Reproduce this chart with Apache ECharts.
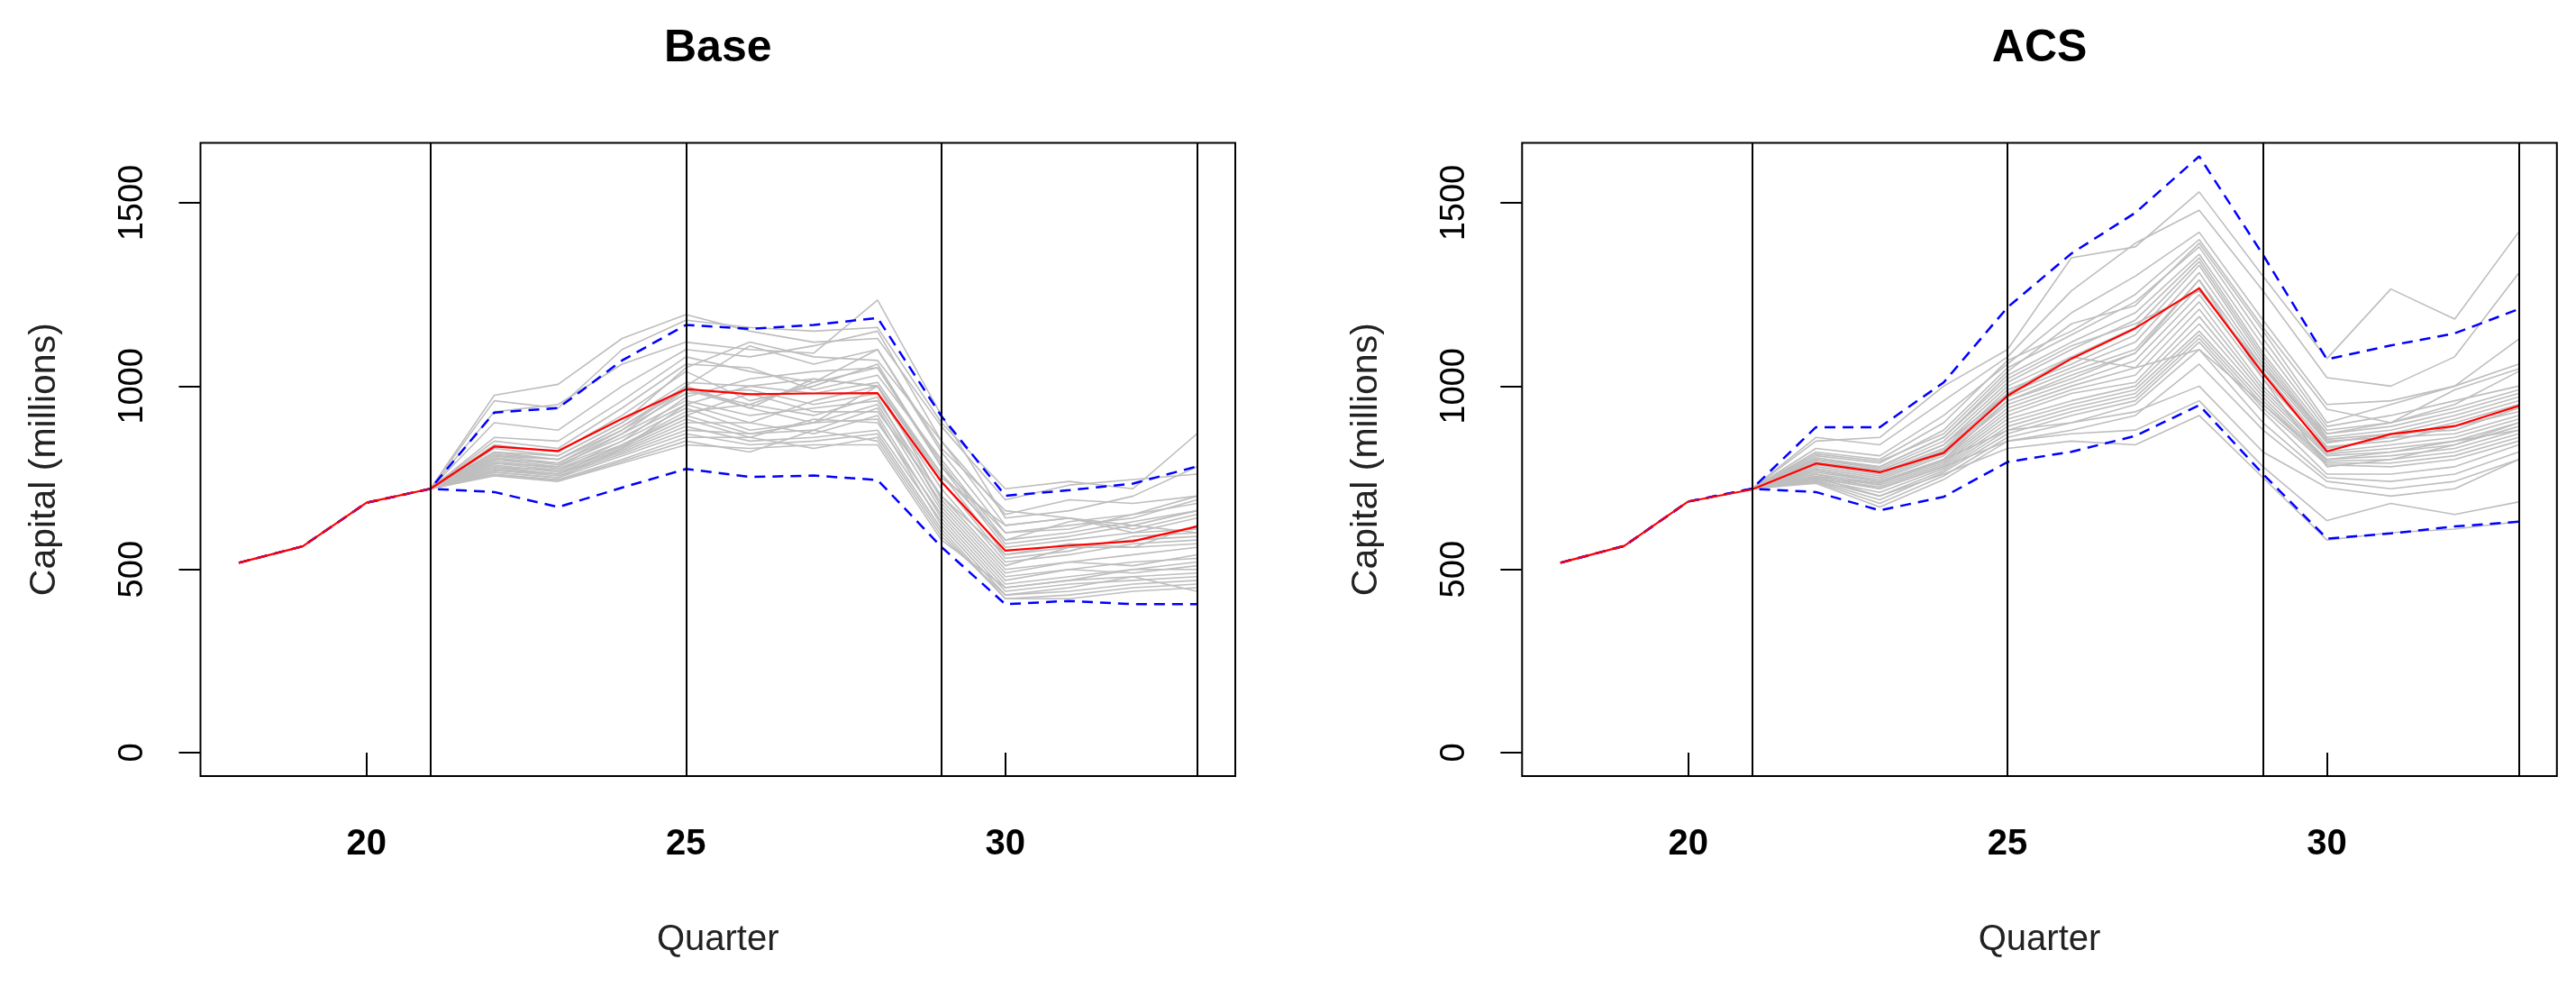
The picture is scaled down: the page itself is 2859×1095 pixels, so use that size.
<!DOCTYPE html>
<html>
<head>
<meta charset="utf-8">
<title>Capital paths: Base vs ACS</title>
<script src="https://cdn.jsdelivr.net/npm/echarts@6/dist/echarts.min.js"></script>
<style>
  html, body { margin: 0; padding: 0; background: #fff; }
  #chart { width: 2859px; height: 1095px; }
</style>
</head>
<body>
<div id="chart"></div>
<script>
// quarters
const histQuarters = [18, 19, 20, 21, 22, 23, 24, 25, 26, 27, 28, 29, 30, 31, 32, 33];
const simQuarters = [21, 22, 23, 24, 25, 26, 27, 28, 29, 30, 31, 32, 33];
const xTicks = [20, 25, 30];
const yTicks = [0, 500, 1000, 1500];
const breakQuarters = [21, 25, 29, 33];

// Base scenario (millions)
const baseMean = [518, 563, 682, 720, 835, 823, 911, 992, 978, 980, 981, 739, 551, 565, 577, 617];
const baseUpper = [518, 563, 682, 720, 928, 940, 1070, 1167, 1156, 1167, 1186, 918, 701, 716, 734, 781];
const baseLower = [518, 563, 682, 720, 711, 670, 723, 774, 752, 756, 744, 561, 405, 414, 405, 405];
const basePaths = [
  [720, 975, 1005, 1130, 1195, 1150, 1120, 1130, 890, 690, 730, 745, 760],
  [720, 960, 940, 1100, 1180, 1160, 1150, 1160, 900, 720, 740, 720, 870],
  [720, 930, 950, 1060, 1120, 1100, 1090, 1235, 920, 640, 660, 700, 780],
  [720, 900, 880, 1000, 1100, 1080, 1110, 1150, 850, 620, 640, 610, 650],
  [720, 860, 850, 960, 1080, 1040, 1010, 1100, 820, 600, 620, 640, 690],
  [720, 850, 830, 940, 1060, 1050, 990, 1030, 800, 580, 600, 630, 660],
  [720, 840, 820, 920, 1040, 960, 1000, 1060, 780, 560, 580, 600, 640],
  [720, 830, 810, 900, 1010, 1000, 980, 1010, 760, 540, 570, 560, 620],
  [720, 820, 800, 890, 990, 940, 1020, 1000, 740, 530, 550, 590, 600],
  [720, 815, 800, 880, 980, 990, 950, 980, 720, 520, 540, 570, 580],
  [720, 810, 790, 870, 960, 920, 940, 960, 700, 510, 560, 560, 570],
  [720, 805, 785, 860, 950, 900, 960, 1000, 690, 500, 520, 540, 560],
  [720, 800, 780, 850, 940, 880, 900, 950, 680, 490, 520, 510, 540],
  [720, 795, 775, 840, 930, 950, 920, 970, 670, 480, 500, 520, 530],
  [720, 790, 770, 835, 920, 870, 880, 940, 660, 470, 500, 490, 510],
  [720, 785, 765, 830, 910, 860, 910, 900, 650, 460, 480, 500, 500],
  [720, 780, 760, 825, 900, 900, 870, 920, 640, 450, 470, 480, 490],
  [720, 775, 760, 820, 890, 850, 860, 880, 630, 440, 460, 470, 480],
  [720, 770, 755, 815, 880, 870, 900, 910, 620, 430, 440, 460, 470],
  [720, 765, 750, 810, 870, 840, 850, 870, 610, 420, 430, 450, 460],
  [720, 760, 745, 800, 860, 860, 830, 860, 600, 420, 420, 440, 450],
  [720, 758, 742, 795, 850, 820, 880, 850, 590, 430, 450, 480, 440],
  [720, 755, 740, 790, 840, 830, 840, 840, 580, 450, 470, 500, 520],
  [720, 800, 790, 880, 1000, 1110, 1060, 1100, 830, 660, 640, 600, 610],
  [720, 820, 810, 900, 1050, 1120, 1080, 1070, 850, 650, 690, 680, 700],
  [720, 780, 770, 850, 970, 1020, 1040, 1050, 780, 600, 610, 650, 680],
  [720, 790, 780, 870, 990, 950, 1010, 1050, 790, 570, 590, 620, 600],
  [720, 770, 760, 840, 920, 980, 930, 930, 700, 540, 560, 580, 590],
  [720, 810, 800, 890, 1000, 940, 900, 1000, 760, 580, 630, 650, 700],
  [720, 765, 750, 830, 950, 1000, 1020, 1000, 750, 620, 640, 620, 660]
];

// ACS scenario (millions)
const acsMean = [518, 564, 685, 718, 789, 765, 818, 974, 1075, 1158, 1267, 1034, 822, 869, 891, 946];
const acsUpper = [518, 564, 685, 720, 888, 888, 1010, 1215, 1362, 1473, 1627, 1358, 1073, 1111, 1144, 1210];
const acsLower = [518, 564, 685, 720, 711, 661, 698, 793, 821, 864, 948, 760, 584, 598, 617, 630];
const acsPaths = [
  [720, 850, 860, 1000, 1100, 1350, 1380, 1530, 1300, 1075, 1265, 1183, 1420],
  [720, 860, 840, 960, 1080, 1260, 1390, 1480, 1260, 1023, 1000, 1080, 1308],
  [720, 830, 810, 920, 1060, 1200, 1300, 1420, 1180, 950, 960, 1000, 1128],
  [720, 820, 800, 900, 1070, 1150, 1250, 1400, 1160, 937, 900, 990, 1047],
  [720, 810, 790, 880, 1050, 1140, 1230, 1380, 1130, 890, 920, 960, 1000],
  [720, 805, 780, 860, 1030, 1120, 1200, 1360, 1110, 880, 900, 940, 990],
  [720, 800, 775, 850, 1010, 1100, 1180, 1350, 1090, 870, 890, 930, 980],
  [720, 795, 770, 840, 1000, 1080, 1160, 1340, 1080, 860, 880, 920, 970],
  [720, 790, 765, 830, 990, 1060, 1140, 1330, 1070, 855, 870, 910, 960],
  [720, 785, 760, 825, 980, 1050, 1120, 1310, 1060, 850, 860, 900, 950],
  [720, 780, 755, 820, 970, 1040, 1100, 1290, 1050, 845, 870, 880, 940],
  [720, 775, 750, 815, 960, 1020, 1090, 1270, 1040, 835, 850, 890, 930],
  [720, 770, 745, 810, 950, 1010, 1070, 1250, 1020, 830, 860, 870, 920],
  [720, 765, 740, 800, 940, 1000, 1050, 1230, 1000, 820, 840, 860, 910],
  [720, 760, 735, 795, 930, 990, 1030, 1210, 990, 815, 830, 850, 900],
  [720, 755, 730, 790, 920, 980, 1010, 1190, 980, 810, 820, 840, 890],
  [720, 750, 725, 785, 910, 960, 1000, 1170, 970, 800, 810, 830, 880],
  [720, 748, 720, 780, 900, 950, 990, 1150, 960, 795, 800, 820, 870],
  [720, 745, 710, 775, 890, 940, 980, 1140, 950, 790, 790, 810, 860],
  [720, 742, 700, 770, 880, 930, 970, 1130, 940, 785, 780, 800, 850],
  [720, 740, 690, 765, 870, 920, 960, 1120, 930, 760, 760, 780, 840],
  [720, 738, 680, 755, 860, 900, 950, 1100, 900, 750, 740, 760, 820],
  [720, 735, 670, 745, 850, 880, 920, 1060, 880, 740, 720, 740, 800],
  [720, 750, 700, 760, 830, 850, 840, 920, 750, 580, 600, 610, 630],
  [720, 760, 720, 780, 850, 870, 880, 960, 780, 633, 680, 650, 684],
  [720, 770, 740, 800, 880, 900, 930, 1000, 820, 723, 700, 720, 800],
  [720, 790, 770, 840, 980, 1080, 1050, 1100, 950, 800, 820, 850, 880],
  [720, 800, 780, 860, 1020, 1110, 1170, 1260, 1050, 870, 900, 950, 1040],
  [720, 815, 795, 870, 1040, 1170, 1220, 1390, 1150, 900, 950, 1000, 1060],
  [720, 752, 735, 800, 960, 1030, 1090, 1290, 1020, 780, 800, 840, 900]
];

const FONT = '"Liberation Sans", Arial, sans-serif';
const gridTop = 158.4;
const gridHeight = 702.6;
const gridWidth = 1148.5;

const panels = [
  { title: "Base", left: 222.5, mean: baseMean, upper: baseUpper, lower: baseLower, paths: basePaths },
  { title: "ACS", left: 1689.3, mean: acsMean, upper: acsUpper, lower: acsLower, paths: acsPaths }
];

const pairs = (xs, ys) => ys.map((y, i) => [xs[i], y]);

const option = {
  animation: false,
  backgroundColor: "#fff",
  title: [],
  grid: [],
  xAxis: [],
  yAxis: [],
  series: []
};

panels.forEach((p, k) => {
  option.title.push({
    text: p.title,
    left: p.left + gridWidth / 2,
    top: 29,
    padding: 0,
    textAlign: "center",
    textStyle: { fontFamily: FONT, fontSize: 50, fontWeight: "bold", color: "#000" }
  });

  option.grid.push({
    left: p.left,
    top: gridTop,
    width: gridWidth,
    height: gridHeight,
    show: true,
    borderColor: "#000",
    borderWidth: 2
  });

  option.xAxis.push({
    type: "value",
    gridIndex: k,
    min: 17.4,
    max: 33.6,
    name: "Quarter",
    nameLocation: "middle",
    nameGap: 162,
    nameTextStyle: { fontFamily: FONT, fontSize: 40, color: "#222" },
    axisLine: { show: false },
    splitLine: { show: false },
    axisTick: {
      show: true,
      customValues: xTicks,
      length: 25,
      lineStyle: { color: "#000", width: 2 }
    },
    axisLabel: {
      customValues: xTicks,
      margin: 56,
      fontFamily: FONT,
      fontSize: 40,
      fontWeight: "bold",
      color: "#000"
    }
  });

  option.yAxis.push({
    type: "value",
    gridIndex: k,
    min: -64,
    max: 1664,
    name: "Capital (millions)",
    nameLocation: "middle",
    nameGap: 152,
    nameTextStyle: { fontFamily: FONT, fontSize: 41, color: "#222" },
    axisLine: { show: false },
    splitLine: { show: false },
    axisTick: {
      show: true,
      customValues: yTicks,
      length: 24,
      lineStyle: { color: "#000", width: 2 }
    },
    axisLabel: {
      customValues: yTicks,
      formatter: v => String(v),
      rotate: 90,
      margin: 56,
      fontFamily: FONT,
      fontSize: 38,
      color: "#000"
    }
  });

  p.paths.forEach(path => {
    option.series.push({
      type: "line",
      xAxisIndex: k,
      yAxisIndex: k,
      data: pairs(simQuarters, path),
      showSymbol: false,
      silent: true,
      z: 2,
      lineStyle: { color: "#bebebe", width: 1.6 }
    });
  });

  [p.upper, p.lower].forEach(band => {
    option.series.push({
      type: "line",
      xAxisIndex: k,
      yAxisIndex: k,
      data: pairs(histQuarters, band),
      showSymbol: false,
      silent: true,
      z: 3,
      lineStyle: { color: "#0000ff", width: 2.5, type: [12, 8] }
    });
  });

  option.series.push({
    type: "line",
    xAxisIndex: k,
    yAxisIndex: k,
    data: pairs(histQuarters, p.mean),
    showSymbol: false,
    silent: true,
    z: 4,
    lineStyle: { color: "#ff0000", width: 2.2 },
    markLine: {
      silent: true,
      symbol: ["none", "none"],
      label: { show: false },
      lineStyle: { color: "#000", width: 2, type: "solid" },
      data: breakQuarters.map(q => ({ xAxis: q }))
    }
  });
});

const myChart = echarts.init(document.getElementById("chart"));
myChart.setOption(option);
</script>
</body>
</html>
